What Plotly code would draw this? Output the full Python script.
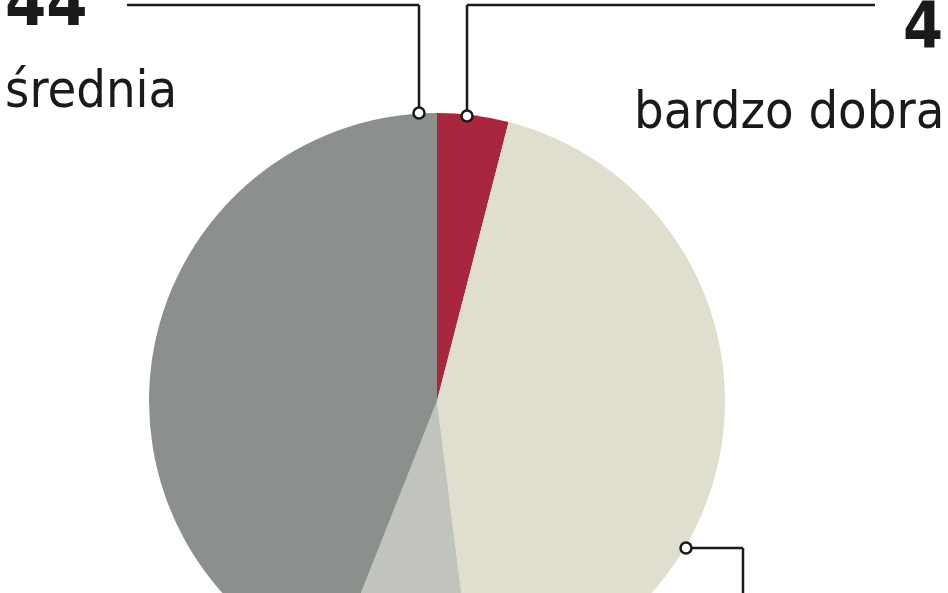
import plotly.graph_objects as go

# --- data -------------------------------------------------------------------
labels = ["bardzo dobra", "dobra", "zła", "średnia"]
values = [4, 44, 8, 44]
colors = ["#A8263E", "#E0DFCF", "#C1C3BD", "#8B908C"]

# --- canvas (pixel helpers) -------------------------------------------------
W, H = 948, 900          # taller than the window: pie runs off the bottom
CX, CY, R = 437, 401, 288


def px(x):
    return x / W


def py(y):
    return 1 - y / H


fig = go.Figure(go.Pie(
    labels=labels,
    values=values,
    marker=dict(colors=colors, line=dict(width=0)),
    sort=False,
    direction="clockwise",
    rotation=0,
    textinfo="none",
    hoverinfo="label+value",
    showlegend=False,
    domain=dict(x=[px(CX - R), px(CX + R)], y=[py(CY + R), py(CY - R)]),
))

# leader lines (pixel paths) and end circles
line_style = dict(color="#1a1a1a", width=2.5)
leaders = [
    [(127, 5), (419, 5), (419, 107)],
    [(875, 5), (467, 5), (467, 110)],
    [(692, 548), (743, 548), (743, 620)],
]
dots = [(419, 113), (467, 116), (686, 548)]

shapes = []
for path in leaders:
    for (x0, y0), (x1, y1) in zip(path[:-1], path[1:]):
        shapes.append(dict(type="line", xref="paper", yref="paper",
                           x0=px(x0), y0=py(y0), x1=px(x1), y1=py(y1),
                           line=line_style))
for x, y in dots:
    shapes.append(dict(type="circle", xref="paper", yref="paper",
                       x0=px(x - 5.5), x1=px(x + 5.5), y0=py(y - 5.5), y1=py(y + 5.5),
                       fillcolor="white", line=line_style))

FONT = "Liberation Sans Narrow, DejaVu Sans Condensed, sans-serif"
ann = [
    dict(text="<b>44</b>", x=px(3), y=py(3), xanchor="left", yanchor="middle",
         font=dict(size=66, family=FONT, color="#1a1a1a")),
    dict(text="średnia", x=px(3), y=py(89), xanchor="left", yanchor="middle",
         font=dict(size=52, family=FONT, color="#1a1a1a")),
    dict(text="<b>4</b>", x=px(945), y=py(26), xanchor="right", yanchor="middle",
         font=dict(size=64, family=FONT, color="#1a1a1a")),
    dict(text="bardzo dobra", x=px(946), y=py(110), xanchor="right", yanchor="middle",
         font=dict(size=52, family=FONT, color="#1a1a1a")),
]
for a in ann:
    a.update(xref="paper", yref="paper", showarrow=False)

fig.update_layout(
    width=W, height=H,
    margin=dict(l=0, r=0, t=0, b=0),
    paper_bgcolor="white",
    plot_bgcolor="white",
    shapes=shapes,
    annotations=ann,
)

fig.write_html(
    "out.html",
    config={"displayModeBar": False},
    post_script="document.body.style.margin='0';document.body.style.overflow='hidden';",
)
